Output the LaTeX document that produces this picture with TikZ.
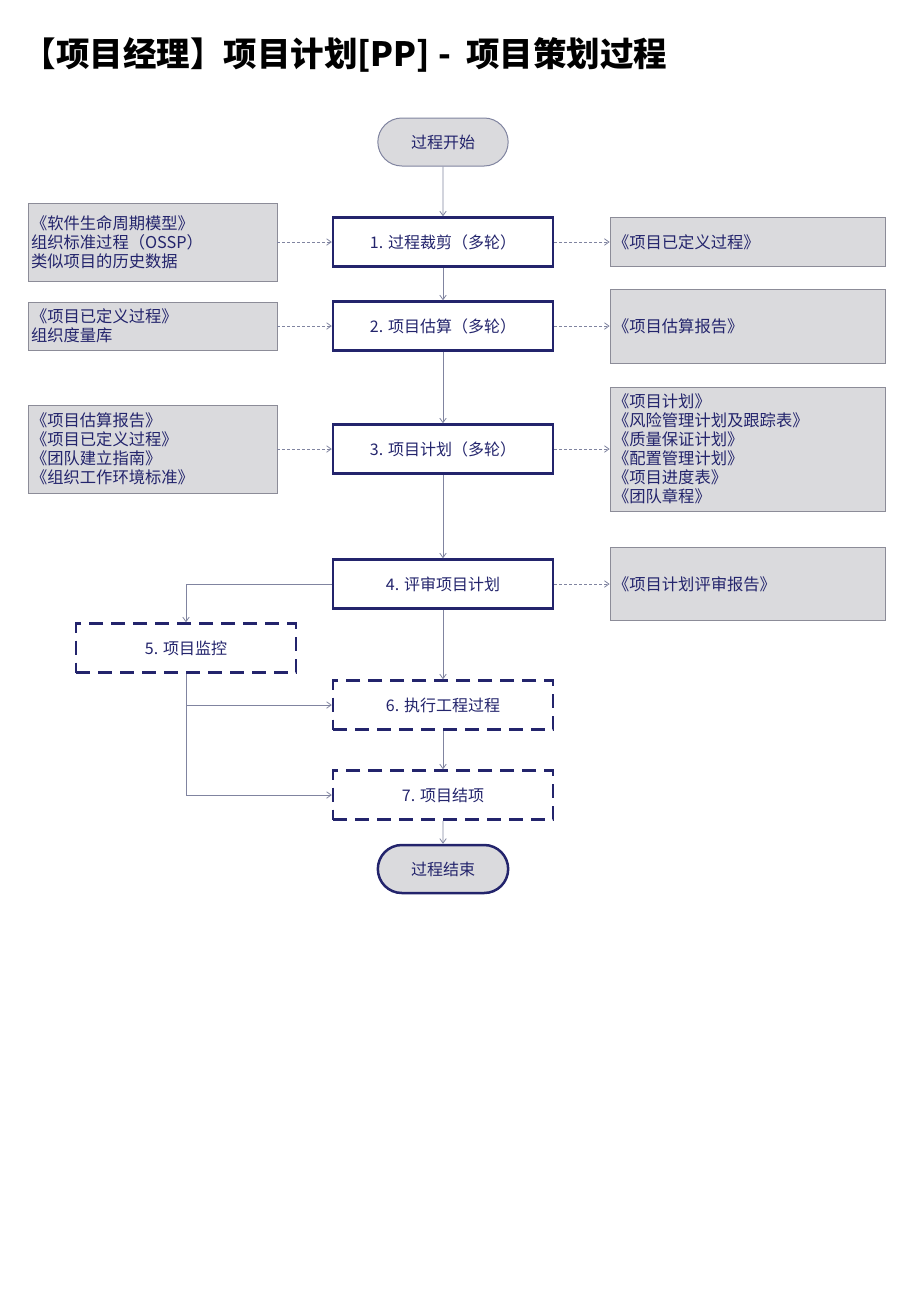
\documentclass[tikz,border=0pt]{standalone}
\usepackage{fontspec}
\setmainfont{Noto Sans CJK SC}
\usetikzlibrary{shapes.misc,arrows.meta}

\definecolor{navy}{RGB}{35,36,108}
\definecolor{docgray}{RGB}{218,218,221}
\definecolor{linegray}{RGB}{128,132,160}
\definecolor{framegray}{RGB}{140,140,152}

\begin{document}
\begin{tikzpicture}[x=1pt,y=1pt,node distance=100pt,
      proc/.style={font=\fontsize{16}{19}\selectfont,text=navy,minimum width=220pt,minimum height=49pt,line width=2.5pt,draw=navy,fill=white},
      sub/.style={proc,dash pattern=on 14pt off 8pt},
      term/.style={rounded rectangle,font=\fontsize{16}{19}\selectfont,text=navy,minimum width=137pt,minimum height=48pt,fill=docgray},
      doc/.style={font=\fontsize{16.3}{19}\selectfont,text=navy,align=left,text width=#1,inner xsep=3pt,draw=framegray,line width=.8pt,fill=docgray},
      flow/.style={-{Straight Barb[length=4.5pt,width=6.5pt]},draw=linegray,line width=.8pt},
      feed/.style={flow,dash pattern=on 3pt off 2pt}]

    \useasboundingbox (0,0) rectangle (920,-1302);

    \node[font=\fontsize{33.5}{40}\selectfont\bfseries,anchor=west] (title) at (19,-55) {【项目经理】项目计划[PP] - \ 项目策划过程};

    \node[term,draw=linegray,line width=1pt] (start) at (443,-142) {过程开始};
    \node[proc] (step1) [below of=start] {1. 过程裁剪（多轮）};
    \node[proc] (step2) [below of=step1,yshift=16pt] {2. 项目估算（多轮）};
    \node[proc] (step3) [below of=step2,yshift=-23pt] {3. 项目计划（多轮）};
    \node[proc] (step4) [below of=step3,yshift=-35pt] {4. 评审项目计划};
    \node[sub] (step5) [left of=step4,xshift=-157pt,yshift=-64pt] {5. 项目监控};
    \node[sub] (step6) [below of=step4,yshift=-21pt] {6. 执行工程过程};
    \node[sub] (step7) [below of=step6,yshift=10pt] {7. 项目结项};
    \node[term,draw=navy,line width=2.5pt] (stop) [below of=step7,yshift=26pt] {过程结束};

    % inputs on the left
    \foreach \s/\h/\t in {1/78pt/{《软件生命周期模型》\\组织标准过程（OSSP）\\类似项目的历史数据},
                          2/48pt/{《项目已定义过程》\\组织度量库},
                          3/88pt/{《项目估算报告》\\《项目已定义过程》\\《团队建立指南》\\《组织工作环境标准》}} {
      \node[doc=243pt,minimum height=\h,node distance=290.5pt,left of=step\s] (in\s) {\t};
      \draw[feed] (in\s) -- (step\s);
    }

    % outputs on the right
    \foreach \s/\h/\t in {1/49pt/{《项目已定义过程》},
                          2/74pt/{《项目估算报告》},
                          3/124pt/{《项目计划》\\《风险管理计划及跟踪表》\\《质量保证计划》\\《配置管理计划》\\《项目进度表》\\《团队章程》},
                          4/73pt/{《项目计划评审报告》}} {
      \node[doc=269pt,minimum height=\h,node distance=304.5pt,right of=step\s] (out\s) {\t};
      \draw[feed] (step\s) -- (out\s);
    }

    \draw[flow] (start) -- (step1);
    \foreach \a/\b in {1/2,2/3,3/4,4/6,6/7} \draw[flow] (step\a) -- (step\b);
    \draw[flow] (step7) -- (stop);
    \draw[flow] (step4.west) -| (step5.north);
    \draw[flow] (step5.south) |- (step6.west);
    \draw[flow] (step5.south) |- (step7.west);

\end{tikzpicture}
\end{document}
